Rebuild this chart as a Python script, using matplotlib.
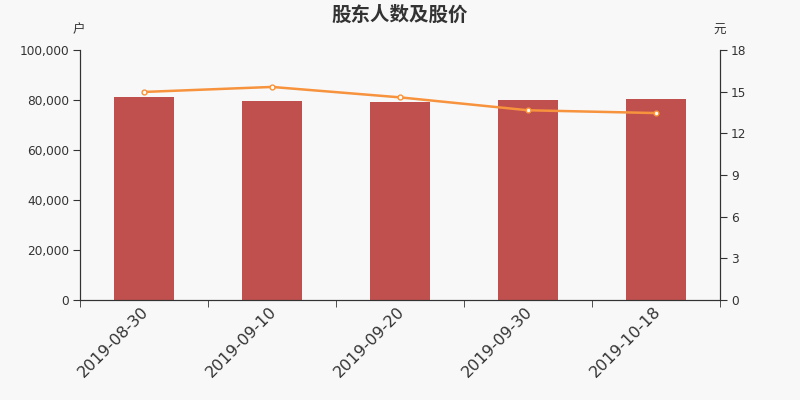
import matplotlib.pyplot as plt
import matplotlib.transforms as mtransforms
import numpy as np

plt.rcParams['font.family'] = ['DejaVu Sans', 'Noto Sans CJK SC']

dates = ['2019-08-30', '2019-09-10', '2019-09-20', '2019-09-30', '2019-10-18']
holders = [81300, 79600, 79300, 80000, 80400]
price = [14.98, 15.34, 14.59, 13.66, 13.46]

bar_color = '#c0504d'
line_color = '#f7923d'
axis_color = '#333333'
bg = '#f8f8f8'

fig = plt.figure(figsize=(8, 4), dpi=100, facecolor=bg)
ax = fig.add_axes([0.1, 0.25, 0.8, 0.625])
ax.set_facecolor(bg)
x = np.arange(len(dates))

ax.bar(x, holders, width=0.47, color=bar_color, zorder=2)
ax.set_xlim(-0.5, len(dates) - 0.5)
ax.set_ylim(0, 100000)
ax.set_yticks(np.arange(0, 100001, 20000))
ax.set_yticklabels([f'{v:,}' for v in range(0, 100001, 20000)])
ax.set_xticks(x)
ax.set_xticklabels(dates, rotation=45, ha='right', va='top',
                   rotation_mode='anchor', fontsize=11.5, color=axis_color)
ax.tick_params(axis='x', length=0, pad=3)
shift = mtransforms.ScaledTranslation(-3 / 100, 0, fig.dpi_scale_trans)
for lbl in ax.get_xticklabels():
    lbl.set_transform(lbl.get_transform() + shift)
ax.set_xticks(np.arange(-0.5, len(dates)), minor=True)
ax.tick_params(axis='x', which='minor', length=5, color=axis_color)
ax.tick_params(axis='y', labelsize=8.7, colors=axis_color, length=5, pad=3)

ax2 = ax.twinx()
ax2.plot(x, price, color=line_color, lw=1.8, marker='o', ms=3.5,
         markerfacecolor='white', markeredgecolor=line_color, mew=1, zorder=3)
ax2.set_ylim(0, 18)
ax2.set_yticks(np.arange(0, 19, 3))
ax2.tick_params(axis='y', labelsize=8.7, colors=axis_color, length=5, pad=3)

for a in (ax, ax2):
    a.spines['top'].set_visible(False)
    for s in ('left', 'right', 'bottom'):
        a.spines[s].set_color(axis_color)

fig.text(0.5, 0.962, '股东人数及股价', ha='center', va='center',
         family='Noto Sans CJK SC', fontsize=14, fontweight='bold', color=axis_color)
fig.text(0.099, 0.925, '户', ha='center', va='center', family='Noto Sans CJK SC',
         fontsize=9, color=axis_color)
fig.text(0.899, 0.925, '元', ha='center', va='center', family='Noto Sans CJK SC',
         fontsize=9, color=axis_color)

fig.savefig('out.png', dpi=100, facecolor=bg)
